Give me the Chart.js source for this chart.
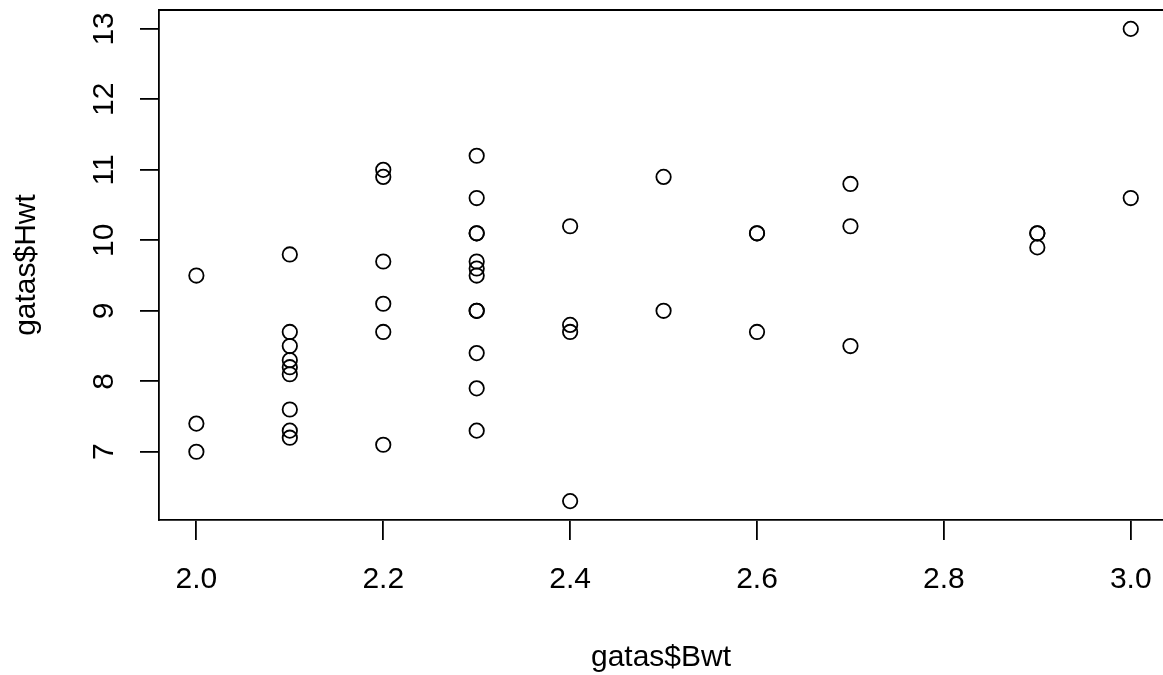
<!DOCTYPE html>
<html><head><meta charset="utf-8">
<script src="https://cdn.jsdelivr.net/npm/chart.js@4.4.1/dist/chart.umd.min.js"></script>
<style>html,body{margin:0;padding:0;background:#fff;overflow:hidden}#wrap{width:1163px;height:675px}</style>
</head><body><div id="wrap"><canvas id="c" width="1163" height="675"></canvas></div>
<script>
// Female cats: body weight (kg) and heart weight (g)
const bwt = [2.0,2.0,2.0,2.1,2.1,2.1,2.1,2.1,2.1,2.1,2.1,2.1,2.2,2.2,2.2,2.2,2.2,2.2,
             2.3,2.3,2.3,2.3,2.3,2.3,2.3,2.3,2.3,2.3,2.3,2.3,2.4,2.4,2.4,2.4,2.5,2.5,
             2.6,2.6,2.6,2.7,2.7,2.7,2.9,2.9,2.9,3.0,3.0];
const hwt = [7.0,7.4,9.5,7.2,7.3,7.6,8.1,8.2,8.3,8.5,8.7,9.8,7.1,8.7,9.1,9.7,10.9,11.0,
             7.3,7.9,8.4,9.0,9.0,9.5,9.6,9.7,10.1,10.1,10.6,11.2,6.3,8.7,8.8,10.2,9.0,10.9,
             8.7,10.1,10.1,8.5,10.2,10.8,9.9,10.1,10.1,10.6,13.0];
const xTicks = [2.0,2.2,2.4,2.6,2.8,3.0];
const yTicks = [7,8,9,10,11,12,13];
const xTitle = 'gatas$Bwt';
const yTitle = 'gatas$Hwt';
const xMin = 1.96, xMax = 3.0345;
const yMin = 6.032, yMax = 13.268;

const points = bwt.map((b, i) => ({x: b, y: hwt[i]}));
const FONT = '"Liberation Sans", Arial, Helvetica, sans-serif';
const LW = 1.8;

const topLine = {
  id: 'topLine',
  afterDraw(chart) {
    const {ctx, chartArea: a} = chart;
    ctx.save();
    ctx.strokeStyle = '#000';
    ctx.lineWidth = LW;
    ctx.beginPath();
    ctx.moveTo(a.left - LW/2, a.top);
    ctx.lineTo(a.right, a.top);
    ctx.stroke();
    ctx.restore();
  }
};

new Chart(document.getElementById('c'), {
  type: 'scatter',
  data: { datasets: [{
    data: points,
    pointRadius: 7.2,
    pointHoverRadius: 7.2,
    pointBorderWidth: LW,
    pointBorderColor: '#000',
    pointBackgroundColor: 'rgba(0,0,0,0)',
    showLine: false,
    clip: false
  }]},
  options: {
    responsive: false,
    animation: false,
    devicePixelRatio: 1,
    layout: { autoPadding: false, padding: { top: 10, left: 0, right: 0, bottom: 0 } },
    plugins: { legend: { display: false }, tooltip: { enabled: false } },
    scales: {
      x: {
        type: 'linear', min: xMin, max: xMax,
        afterBuildTicks: s => { s.ticks = xTicks.map(v => ({value: v})); },
        afterFit: s => { s.height = 155; s.paddingLeft = 0; s.paddingRight = 0; },
        ticks: { color: '#000', font: { family: FONT, size: 30 }, padding: 22,
                 maxRotation: 0, minRotation: 0, autoSkip: false,
                 callback: v => Number(v).toFixed(1) },
        grid: { drawOnChartArea: false, drawTicks: true, tickLength: 20, color: '#000', lineWidth: LW },
        border: { display: true, color: '#000', width: LW },
        title: { display: true, text: xTitle, color: '#000', font: { family: FONT, size: 30 },
                 padding: { top: 0, bottom: -1 } }
      },
      y: {
        type: 'linear', min: yMin, max: yMax,
        afterBuildTicks: s => { s.ticks = yTicks.map(v => ({value: v})); },
        afterFit: s => { s.width = 159; s.paddingTop = 0; s.paddingBottom = 0; },
        ticks: { color: '#000', font: { family: FONT, size: 30 }, padding: 19,
                 minRotation: 90, maxRotation: 90, crossAlign: 'center', autoSkip: false,
                 callback: v => String(v) },
        grid: { drawOnChartArea: false, drawTicks: true, tickLength: 19, color: '#000', lineWidth: LW },
        border: { display: true, color: '#000', width: LW },
        title: { display: true, text: yTitle, color: '#000', font: { family: FONT, size: 30 },
                 padding: { top: 9, bottom: 0 } }
      }
    }
  },
  plugins: [topLine]
});
</script>
</body></html>
